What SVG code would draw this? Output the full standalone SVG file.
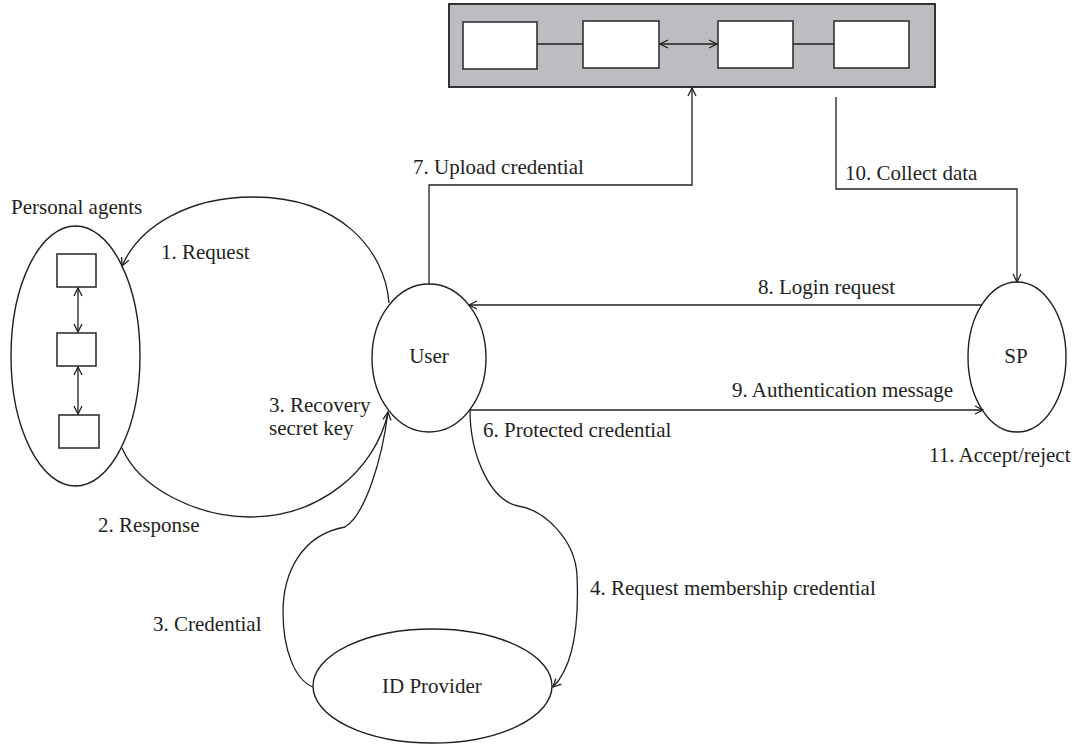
<svg xmlns="http://www.w3.org/2000/svg" width="1074" height="746" viewBox="0 0 1074 746">
  <defs>
    <marker id="arr" viewBox="0 0 10 10" markerUnits="userSpaceOnUse" markerWidth="10" markerHeight="10" refX="9" refY="5" orient="auto-start-reverse">
      <path d="M1,1 L9,5 L1,9" fill="none" stroke="#231f20" stroke-width="1.3"/>
    </marker>
  </defs>
  <style>
    .t { font-family: "Liberation Serif", "Times New Roman", serif; font-size: 21px; fill: #231f20; }
    .node { fill: #ffffff; stroke: #231f20; stroke-width: 1.4; }
    .box { fill: #ffffff; stroke: #333333; stroke-width: 1.6; }
    .c { fill: none; stroke: #231f20; stroke-width: 1.3; }
    .a { marker-end: url(#arr); }
    .aa { marker-start: url(#arr); marker-end: url(#arr); }
  </style>
  <rect width="1074" height="746" fill="#ffffff"/>

  <g id="blockchain">
    <rect x="449" y="4" width="486" height="83" fill="#bcbdc0" stroke="#333333" stroke-width="2"/>
    <rect class="box" x="463" y="22" width="74" height="47"/>
    <rect class="box" x="583" y="21" width="76" height="47"/>
    <rect class="box" x="718" y="21" width="75" height="47"/>
    <rect class="box" x="834" y="21" width="75" height="47"/>
    <line class="c" x1="537" y1="44" x2="583" y2="44"/>
    <line class="c aa" x1="660" y1="44" x2="717" y2="44"/>
    <line class="c" x1="793" y1="44" x2="834" y2="44"/>
  </g>

  <g id="personal-agents">
    <ellipse class="node" cx="75.5" cy="356" rx="64.5" ry="130"/>
    <rect class="box" x="57" y="254" width="39" height="33"/>
    <rect class="box" x="57" y="333" width="39" height="33"/>
    <rect class="box" x="59" y="415" width="40" height="33"/>
    <line class="c aa" x1="78" y1="288" x2="78" y2="332"/>
    <line class="c aa" x1="78" y1="367" x2="78" y2="414"/>
    <text class="t" x="11" y="214">Personal agents</text>
  </g>

  <g id="user">
    <ellipse class="node" cx="429" cy="358" rx="57" ry="74"/>
    <text class="t" x="429" y="363" text-anchor="middle">User</text>
  </g>

  <g id="sp">
    <ellipse class="node" cx="1017" cy="357" rx="49" ry="75"/>
    <text class="t" x="1016" y="363" text-anchor="middle">SP</text>
  </g>

  <g id="id-provider">
    <ellipse class="node" cx="432.5" cy="686" rx="119.5" ry="57"/>
    <text class="t" x="382" y="693">ID Provider</text>
  </g>

  <g id="connectors">
    <path class="c a" d="M389,303 C385,250 340,197 253,197 C190,197 140,225 122,266"/>
    <path class="c" d="M122,448 C140,490 200,517 250,517 C320,517 375,470 388,413"/>
    <path class="c a" d="M313,687 C295,680 283,650 283,612 C283,575 300,535 345,527 C365,515 382,460 388,412"/>
    <path class="c a" d="M470,410 C470,455 490,500 518,506 C545,510 575,540 577,575 C579,620 575,665 553,687"/>
    <polyline class="c a" points="429,284 429,185 692,185 692,88"/>
    <polyline class="c a" points="836,97 836,189 1017,189 1017,282"/>
    <line class="c a" x1="982" y1="305" x2="469" y2="305"/>
    <line class="c a" x1="470" y1="410" x2="983" y2="410"/>
  </g>

  <g id="labels">
    <text class="t" x="161" y="259">1. Request</text>
    <text class="t" x="98" y="532">2. Response</text>
    <text class="t" x="269" y="412">3. Recovery</text>
    <text class="t" x="269" y="435">secret key</text>
    <text class="t" x="153" y="631">3. Credential</text>
    <text class="t" x="590" y="595">4. Request membership credential</text>
    <text class="t" x="483" y="437">6. Protected credential</text>
    <text class="t" x="413" y="174">7. Upload credential</text>
    <text class="t" x="758" y="294">8. Login request</text>
    <text class="t" x="732" y="397">9. Authentication message</text>
    <text class="t" x="845" y="180">10. Collect data</text>
    <text class="t" x="929" y="462">11. Accept/reject</text>
  </g>
</svg>
